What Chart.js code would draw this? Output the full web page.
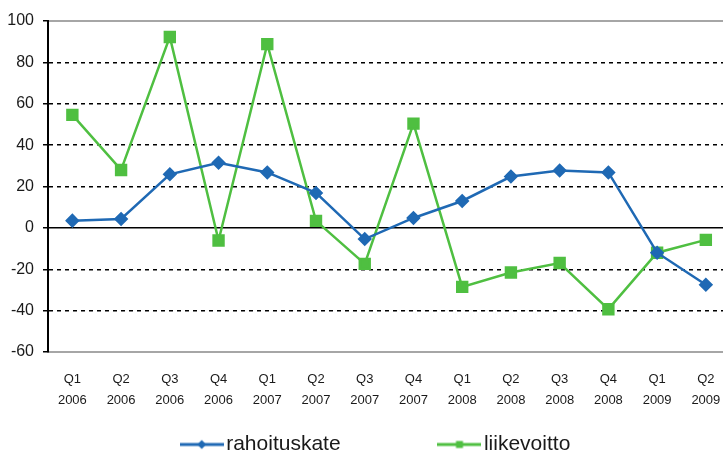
<!DOCTYPE html>
<html>
<head>
<meta charset="utf-8">
<script src="https://cdn.jsdelivr.net/npm/chart.js@4/dist/chart.umd.min.js"></script>
<style>
  html, body { margin: 0; padding: 0; background: #fff; overflow: hidden; }
  #wrap { width: 758px; height: 465px; position: relative; }
</style>
</head>
<body>
<div id="wrap"><canvas id="c" width="758" height="465"></canvas></div>
<script>
const quarters = ['Q1','Q2','Q3','Q4','Q1','Q2','Q3','Q4','Q1','Q2','Q3','Q4','Q1','Q2'];
const years = ['2006','2006','2006','2006','2007','2007','2007','2007','2008','2008','2008','2008','2009','2009'];
const rahoituskate = [3.5, 4.3, 25.9, 31.5, 26.8, 16.9, -5.4, 4.8, 13, 24.8, 27.7, 26.8, -12, -27.5];
const liikevoitto = [54.6, 28, 92.3, -6.1, 88.8, 3.4, -17.4, 50.4, -28.5, -21.6, -17, -39.3, -12, -5.8];
const yTicks = [100, 80, 60, 40, 20, 0, -20, -40, -60];

const labels = quarters.map((q, i) => [q, years[i]]);
const BLUE = '#1f69b4';
const GREEN = '#4fbf41';
const FONT = 'Liberation Sans';

function legendIcon(color, shape) {
  const cv = document.createElement('canvas');
  cv.width = 44; cv.height = 12;
  const g = cv.getContext('2d');
  if (!color) return cv;
  g.strokeStyle = color; g.lineWidth = 3;
  g.beginPath(); g.moveTo(0, 6); g.lineTo(44, 6); g.stroke();
  g.fillStyle = color;
  if (shape === 'diamond') {
    g.beginPath(); g.moveTo(22, 1.5); g.lineTo(26.5, 6); g.lineTo(22, 10.5); g.lineTo(17.5, 6); g.closePath(); g.fill();
  } else {
    g.fillRect(18.5, 2.5, 7, 7);
  }
  return cv;
}
const icons = [legendIcon(BLUE, 'diamond'), legendIcon(GREEN, 'square')];
const blankIcon = legendIcon(null);

new Chart(document.getElementById('c'), {
  type: 'line',
  data: {
    labels: labels,
    datasets: [
      { label: 'rahoituskate', data: rahoituskate, borderColor: BLUE, backgroundColor: BLUE,
        borderWidth: 2.5, pointStyle: 'rectRot', pointRadius: 5.5, pointHoverRadius: 5.5, tension: 0, xAxisID: 'x', yAxisID: 'y' },
      { label: 'liikevoitto', data: liikevoitto, borderColor: GREEN, backgroundColor: GREEN,
        borderWidth: 2.5, pointStyle: 'rect', pointRadius: 7, pointHoverRadius: 7, tension: 0, xAxisID: 'x', yAxisID: 'y' }
    ]
  },
  options: {
    responsive: false,
    animation: false,
    layout: { padding: { top: 21, left: 0, right: 0, bottom: 0 } },
    plugins: {
      tooltip: { enabled: false },
      legend: {
        position: 'bottom',
        labels: {
          font: { family: FONT, size: 21 },
          color: '#1a1a1a',
          usePointStyle: true,
          pointStyleWidth: 28,
          boxHeight: 12,
          padding: 4,
          generateLabels: (chart) => {
            const items = Chart.defaults.plugins.legend.labels.generateLabels(chart);
            items.forEach((it, i) => { it.pointStyle = icons[i]; });
            const spacer = { text: '          ', pointStyle: blankIcon, fillStyle: 'rgba(0,0,0,0)',
              strokeStyle: 'rgba(0,0,0,0)', lineWidth: 0, hidden: false, fontColor: 'rgba(0,0,0,0)' };
            return [items[0], spacer, items[1]];
          }
        }
      }
    },
    scales: {
      x: {
        offset: true,
        grid: { display: false, drawTicks: false },
        border: { display: true, color: '#a6a6a6', width: 2 },
        afterFit: (s) => { s.height = 78; },
        ticks: {
          font: { family: FONT, size: 13, lineHeight: '21px' },
          color: '#1a1a1a',
          padding: 16.5,
          maxRotation: 0,
          autoSkip: false
        }
      },
      xTop: {
        type: 'category',
        position: 'top',
        offset: true,
        grid: { display: false, drawTicks: false },
        border: { display: true, color: '#a6a6a6', width: 2 },
        ticks: { display: false },
        afterFit: (s) => { s.height = 0; }
      },
      y: {
        min: -60, max: 100,
        afterBuildTicks: (s) => { s.ticks = yTicks.map(v => ({ value: v })); },
        afterFit: (s) => { s.width = 48; },
        grid: {
          color: (ctx) => ([0, 100, -60].includes(ctx.tick && ctx.tick.value) ? 'rgba(0,0,0,0)' : '#000'),
          lineWidth: 1.5,
          drawTicks: true,
          tickLength: 5,
          tickColor: '#000',
          tickWidth: 1.5
        },
        border: { display: true, color: '#000', width: 2, dash: [4, 4] },
        ticks: {
          font: { family: FONT, size: 16 },
          color: '#1a1a1a',
          padding: 9
        }
      },
      y2: {
        position: 'right',
        min: -60, max: 100,
        afterBuildTicks: (s) => { s.ticks = [{ value: 0 }]; },
        afterFit: (s) => { s.width = 27.8; },
        grid: { color: '#000', lineWidth: 1.5, drawTicks: false },
        border: { display: false },
        ticks: { display: false }
      }
    }
  }
});
</script>
</body>
</html>
